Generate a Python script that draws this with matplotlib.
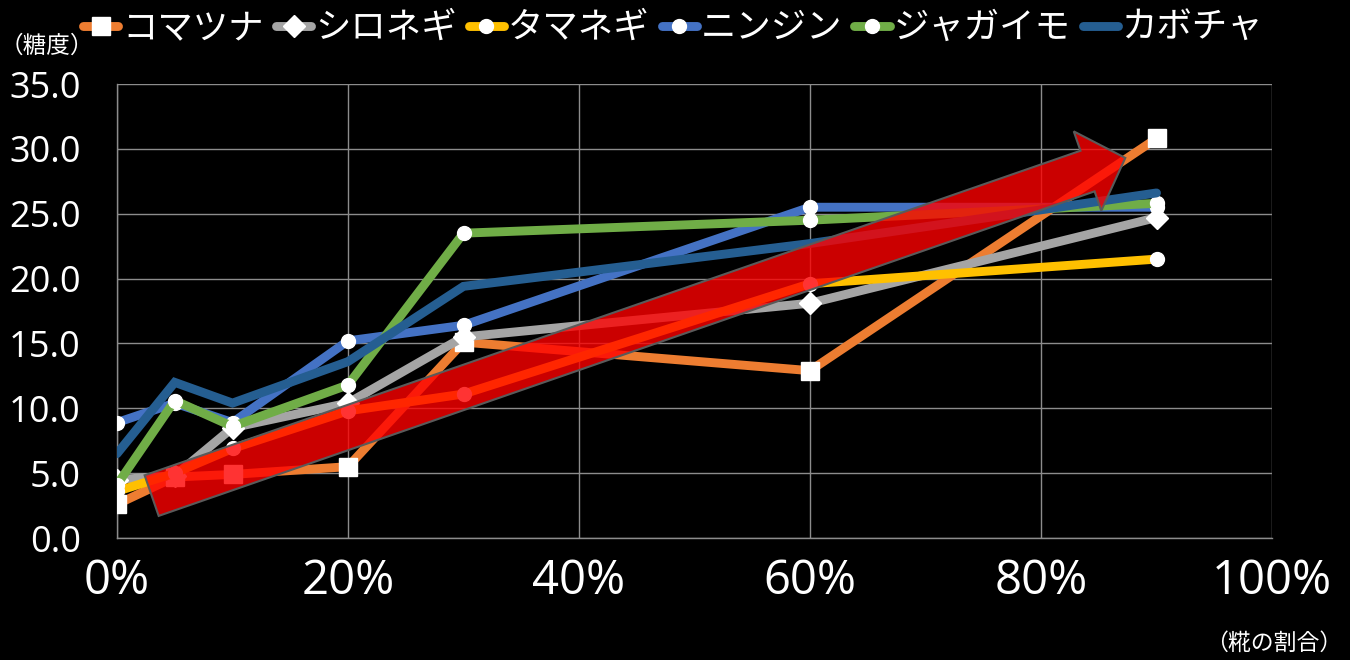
import matplotlib
matplotlib.use("Agg")
import matplotlib.pyplot as plt
import numpy as np
from matplotlib.patches import Polygon
from matplotlib.ticker import PercentFormatter, FormatStrFormatter

plt.rcParams['font.family'] = ['Open Sans', 'Noto Sans CJK JP', 'DejaVu Sans']

# 糀の割合 (fraction) and 糖度 for each vegetable
ratio = [0.0, 0.05, 0.10, 0.20, 0.30, 0.60, 0.90]
komatsuna = [2.6, 4.7, 4.9, 5.5, 15.1, 12.9, 30.8]
shironegi = [4.5, 4.8, 8.5, 10.4, 15.5, 18.1, 24.7]
tamanegi = [3.6, 5.0, 6.9, 9.8, 11.1, 19.6, 21.5]
ninjin = [8.9, 10.4, 8.9, 15.2, 16.4, 25.5, 25.5]
jagaimo = [4.1, 10.6, 8.6, 11.8, 23.5, 24.5, 25.8]
kabocha = [6.5, 12.0, 10.4, 13.6, 19.4, 22.7, 26.6]

names = ["コマツナ", "シロネギ", "タマネギ", "ニンジン", "ジャガイモ", "カボチャ"]
series = [komatsuna, shironegi, tamanegi, ninjin, jagaimo, kabocha]
colors = ["#ED7D31", "#A5A5A5", "#FFC000", "#4472C4", "#70AD47", "#255E91"]
markers = ["s", "D", "o", "o", "o", None]
msizes = [12.5, 11, 10, 10, 10, 0]

x_ticks = [0, 0.2, 0.4, 0.6, 0.8, 1.0]
y_ticks = [0, 5, 10, 15, 20, 25, 30, 35]

fig = plt.figure(figsize=(13.5, 6.6), dpi=100, facecolor="black")
ax = fig.add_axes([117 / 1350, 1 - 538 / 660, 1155 / 1350, 454 / 660])
ax.set_facecolor("black")

for vals, name, c, m, ms in zip(series, names, colors, markers, msizes):
    ax.plot(ratio, vals, color=c, lw=6.4, label=name,
            marker=m if m else None, ms=ms, mfc="white", mec="white",
            mew=1.0, solid_joinstyle="miter", solid_capstyle="round",
            zorder=3)

ax.set_xlim(0, 1.0)
ax.set_ylim(0, 35)
ax.set_xticks(x_ticks)
ax.set_yticks(y_ticks)
ax.xaxis.set_major_formatter(PercentFormatter(xmax=1.0, decimals=0))
ax.yaxis.set_major_formatter(FormatStrFormatter("%.1f"))
ax.grid(True, color="#8C8C8C", lw=1.0, zorder=0)
ax.set_axisbelow(True)
for side in ["top", "right"]:
    ax.spines[side].set_visible(False)
for side in ["left", "bottom"]:
    ax.spines[side].set_color("#8C8C8C")
    ax.spines[side].set_linewidth(1.0)
ax.tick_params(axis="both", length=0, colors="white")
ax.tick_params(axis="y", labelsize=26, pad=26)
ax.tick_params(axis="x", labelsize=34, pad=14)

# Trend arrow drawn over the lines (built in display space, placed in figure coords)
tail = np.array(ax.transData.transform((0.030, 3.27)))
tip = np.array(ax.transData.transform((0.873, 29.3)))
u = (tip - tail) / np.linalg.norm(tip - tail)
n = np.array([-u[1], u[0]])
shaft_hw, head_hw, head_len = 21.5, 42.0, 40.0
base = tip - u * head_len
verts = [tail + n * shaft_hw, base + n * shaft_hw, base + n * head_hw, tip,
         base - n * head_hw, base - n * shaft_hw, tail - n * shaft_hw]
verts = fig.transFigure.inverted().transform(np.array(verts))
arrow = Polygon(verts, closed=True, transform=fig.transFigure,
                facecolor=(1.0, 0.0, 0.0, 0.8), edgecolor="#5A5A5A",
                lw=1.5, zorder=6)
ax.add_patch(arrow)

leg = fig.legend(loc="center", bbox_to_anchor=(673 / 1350, 1 - 28 / 660),
                 ncol=6, frameon=False, handlelength=1.0, handletextpad=0.1,
                 columnspacing=0.35, borderpad=0, borderaxespad=0,
                 prop={"family": ["Noto Sans CJK JP"], "size": 25.5})
for t in leg.get_texts():
    t.set_color("white")

fig.text(0 / 1350, 1 - 46 / 660, "（糖度）", color="white", fontsize=17,
         family=["Noto Sans CJK JP"], ha="left", va="center")
fig.text(1342 / 1350, 1 - 643 / 660, "（糀の割合）", color="white", fontsize=16.5,
         family=["Noto Sans CJK JP"], ha="right", va="center")

fig.savefig("out.png", dpi=100, facecolor="black")
